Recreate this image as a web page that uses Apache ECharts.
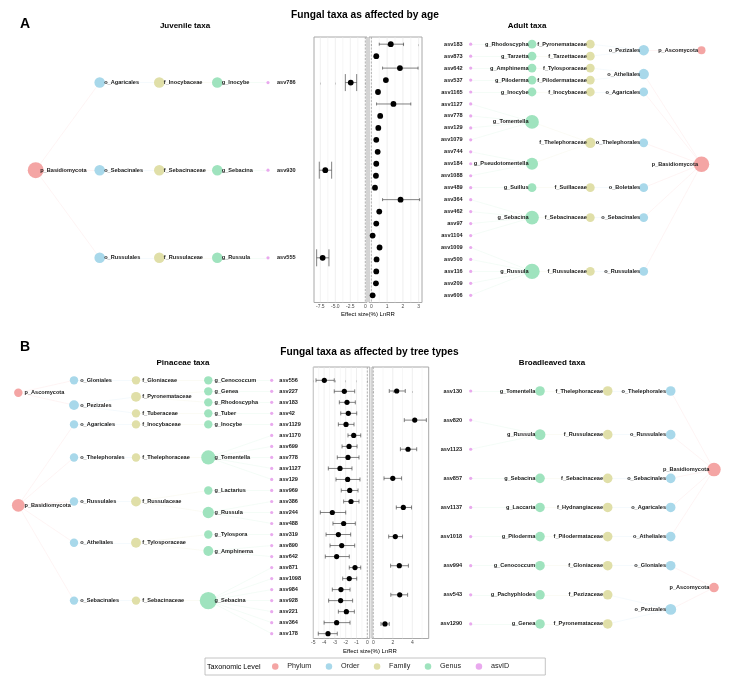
<!DOCTYPE html>
<html>
<head>
<meta charset="utf-8">
<script src="https://cdn.jsdelivr.net/npm/echarts@6/dist/echarts.min.js"></script>
<style>
  html, body { margin: 0; padding: 0; background: #fff; }
  #main { width: 732px; height: 684px; }
</style>
</head>
<body>
<div id="main"></div>
<script>
  // genus -> [phylum, order, family]
  const taxonomy = {
    g_Rhodoscypha: ['p_Ascomycota', 'o_Pezizales', 'f_Pyronemataceae'],
    g_Genea: ['p_Ascomycota', 'o_Pezizales', 'f_Pyronemataceae'],
    g_Tarzetta: ['p_Ascomycota', 'o_Pezizales', 'f_Tarzettaceae'],
    g_Tuber: ['p_Ascomycota', 'o_Pezizales', 'f_Tuberaceae'],
    g_Pachyphlodes: ['p_Ascomycota', 'o_Pezizales', 'f_Pezizaceae'],
    g_Cenococcum: ['p_Ascomycota', 'o_Gloniales', 'f_Gloniaceae'],
    g_Amphinema: ['p_Basidiomycota', 'o_Atheliales', 'f_Tylosporaceae'],
    g_Tylospora: ['p_Basidiomycota', 'o_Atheliales', 'f_Tylosporaceae'],
    g_Piloderma: ['p_Basidiomycota', 'o_Atheliales', 'f_Pilodermataceae'],
    g_Inocybe: ['p_Basidiomycota', 'o_Agaricales', 'f_Inocybaceae'],
    g_Laccaria: ['p_Basidiomycota', 'o_Agaricales', 'f_Hydnangiaceae'],
    g_Tomentella: ['p_Basidiomycota', 'o_Thelephorales', 'f_Thelephoraceae'],
    g_Pseudotomentella: ['p_Basidiomycota', 'o_Thelephorales', 'f_Thelephoraceae'],
    g_Suillus: ['p_Basidiomycota', 'o_Boletales', 'f_Suillaceae'],
    g_Sebacina: ['p_Basidiomycota', 'o_Sebacinales', 'f_Sebacinaceae'],
    g_Russula: ['p_Basidiomycota', 'o_Russulales', 'f_Russulaceae'],
    g_Lactarius: ['p_Basidiomycota', 'o_Russulales', 'f_Russulaceae']
  };
  const levelNames = ['Phylum', 'Order', 'Family', 'Genus', 'asvID'];
  const levelColors = ['#F4A5A4', '#A8D8EA', '#E0DFA8', '#9FE3BE', '#E9A9EE'];

  // A: age
  const juvenileAsv = ['asv786', 'asv930', 'asv555'];
  const juvenileGenus = ['g_Inocybe', 'g_Sebacina', 'g_Russula'];
  const juvenileLnRR = [-2.43, -6.67, -7.11];
  const juvenileLow = [-3.33, -7.67, -8.11];
  const juvenileHigh = [-1.44, -5.61, -6.06];
  const juvenileTicks = [-7.5, -5, -2.5, 0];
  const juvenileTickLabels = ['-7.5', '-5.0', '-2.5', '0'];

  const adultAsv = ['asv183', 'asv873', 'asv642', 'asv537', 'asv1165', 'asv1127', 'asv778', 'asv129',
    'asv1079', 'asv744', 'asv184', 'asv1088', 'asv489', 'asv364', 'asv462', 'asv97', 'asv1104',
    'asv1009', 'asv500', 'asv116', 'asv209', 'asv606'];
  const adultGenus = ['g_Rhodoscypha', 'g_Tarzetta', 'g_Amphinema', 'g_Piloderma', 'g_Inocybe',
    'g_Tomentella', 'g_Tomentella', 'g_Tomentella', 'g_Tomentella',
    'g_Pseudotomentella', 'g_Pseudotomentella', 'g_Pseudotomentella', 'g_Suillus',
    'g_Sebacina', 'g_Sebacina', 'g_Sebacina', 'g_Sebacina',
    'g_Russula', 'g_Russula', 'g_Russula', 'g_Russula', 'g_Russula'];
  const adultLnRR = [1.23, 0.31, 1.81, 0.92, 0.42, 1.40, 0.56, 0.44, 0.31, 0.40, 0.31, 0.29, 0.23,
    1.85, 0.50, 0.31, 0.08, 0.52, 0.33, 0.31, 0.29, 0.08];
  const adultLow = [0.50, 0.27, 0.71, 0.88, 0.38, 0.33, 0.52, 0.40, 0.27, 0.36, 0.27, 0.25, 0.19,
    0.71, 0.46, 0.27, 0.04, 0.48, 0.29, 0.27, 0.25, 0.04];
  const adultHigh = [2.04, 0.35, 2.96, 0.96, 0.46, 2.50, 0.60, 0.48, 0.35, 0.44, 0.35, 0.33, 0.27,
    3.06, 0.54, 0.35, 0.12, 0.56, 0.37, 0.35, 0.33, 0.12];
  const adultTicks = [0, 1, 2, 3];
  const adultTickLabels = ['0', '1', '2', '3'];

  // B: tree types
  const pinaceaeAsv = ['asv556', 'asv227', 'asv183', 'asv42', 'asv1129', 'asv1170', 'asv699', 'asv778',
    'asv1127', 'asv129', 'asv969', 'asv386', 'asv244', 'asv488', 'asv319', 'asv890', 'asv642',
    'asv871', 'asv1098', 'asv984', 'asv928', 'asv221', 'asv364', 'asv178'];
  const pinaceaeGenus = ['g_Cenococcum', 'g_Genea', 'g_Rhodoscypha', 'g_Tuber', 'g_Inocybe',
    'g_Tomentella', 'g_Tomentella', 'g_Tomentella', 'g_Tomentella', 'g_Tomentella',
    'g_Lactarius', 'g_Russula', 'g_Russula', 'g_Russula', 'g_Tylospora', 'g_Amphinema', 'g_Amphinema',
    'g_Sebacina', 'g_Sebacina', 'g_Sebacina', 'g_Sebacina', 'g_Sebacina', 'g_Sebacina', 'g_Sebacina'];
  const pinaceaeLnRR = [-3.98, -2.13, -1.88, -1.76, -1.97, -1.26, -1.69, -1.79, -2.53, -1.82, -1.63, -1.51,
    -3.24, -2.19, -2.68, -2.37, -2.84, -1.14, -1.67, -2.44, -2.47, -1.94, -2.84, -3.64];
  const pinaceaeLow = [-4.75, -3.06, -2.59, -2.46, -2.68, -1.79, -2.34, -2.78, -3.61, -2.90, -2.41, -2.19,
    -4.35, -3.18, -3.82, -3.45, -3.89, -1.67, -2.28, -3.24, -3.58, -2.68, -4.00, -4.54];
  const pinaceaeHigh = [-3.06, -1.17, -1.11, -0.98, -1.23, -0.61, -0.95, -0.77, -1.42, -0.68, -0.86, -0.77,
    -2.00, -1.11, -1.54, -1.17, -1.67, -0.61, -0.98, -1.60, -1.36, -1.20, -1.60, -2.78];
  const pinaceaeTicks = [-5, -4, -3, -2, -1, 0];
  const pinaceaeTickLabels = ['-5', '-4', '-3', '-2', '-1', '0'];

  const broadAsv = ['asv130', 'asv820', 'asv1123', 'asv857', 'asv1137', 'asv1018', 'asv994', 'asv543', 'asv1290'];
  const broadGenus = ['g_Tomentella', 'g_Russula', 'g_Russula', 'g_Sebacina', 'g_Laccaria', 'g_Piloderma',
    'g_Cenococcum', 'g_Pachyphlodes', 'g_Genea'];
  const broadLnRR = [2.40, 4.25, 3.56, 2.00, 3.08, 2.26, 2.67, 2.71, 1.20];
  const broadLow = [1.64, 3.18, 2.78, 1.10, 2.36, 1.58, 1.78, 1.80, 0.79];
  const broadHigh = [3.28, 5.44, 4.45, 2.90, 3.92, 3.00, 3.60, 3.52, 1.64];
  const broadTicks = [0, 2, 4];
  const broadTickLabels = ['0', '2', '4'];

  const FONT = '"Liberation Sans", Arial, sans-serif';
  const boxA = { top: 37, height: 265.5 };
  const boxB = { top: 367, height: 271.5 };
  const rangeJuv = [-0.52, 2.51];
  const rangeAdult = [-0.6, 21.6];
  const rangePin = [-1.21, 23.44];
  const rangeBroad = [-0.824, 8.5];

  // tree layout: leaves in row order, parent row = mean of its children
  function buildTree(asvs, genera, st) {
    const byName = {};
    const list = [];
    const links = [];
    asvs.forEach(function (asv, i) {
      const path = taxonomy[genera[i]].concat([genera[i], asv]);
      path.forEach(function (name, level) {
        if (byName[name]) return;
        const n = { name: name, level: level, kids: [], row: level === 4 ? i : null };
        byName[name] = n;
        list.push(n);
        if (level > 0) {
          byName[path[level - 1]].kids.push(n);
          links.push({ source: path[level - 1], target: name,
            lineStyle: { color: levelColors[level - 1] } });
        }
      });
    });
    function rowOf(n) {
      if (n.row === null) {
        n.row = n.kids.reduce(function (s, k) { return s + rowOf(k); }, 0) / n.kids.length;
      }
      return n.row;
    }
    const nodes = list.map(function (n) {
      const deg = n.kids.length + (n.level > 0 ? 1 : 0);
      const isAsv = n.level === 4;
      const size = isAsv ? 3.2 : Math.max(st.min, st.a + st.b * deg);
      const off = isAsv ? st.asvOff : st.off;
      return {
        name: n.name,
        value: [st.cols[n.level], rowOf(n)],
        category: n.level,
        symbolSize: size,
        label: {
          show: true, position: 'inside', align: st.side,
          offset: [st.side === 'left' ? off : -off, 0]
        }
      };
    });
    return {
      type: 'graph', layout: 'none', coordinateSystem: 'cartesian2d',
      xAxisIndex: st.grid, yAxisIndex: st.grid,
      symbol: 'circle', silent: true, animation: false, z: 2,
      categories: levelNames.map(function (n, i) { return { name: n, itemStyle: { color: levelColors[i] } }; }),
      data: nodes, links: links,
      lineStyle: { width: 0.7, opacity: 0.17, curveness: 0 },
      label: { fontSize: 5.6, fontWeight: 'bold', color: '#1a1a1a', fontFamily: FONT },
      emphasis: { disabled: true }
    };
  }

  const trees = [
    buildTree(juvenileAsv, juvenileGenus,
      { grid: 0, cols: [35.7, 99.7, 159.3, 217.3, 268], side: 'left', off: 4.5, asvOff: 9, a: 0, b: 5.3, min: 8 }),
    buildTree(adultAsv, adultGenus,
      { grid: 1, cols: [701.5, 643.7, 590.3, 532, 470.7], side: 'right', off: 3.5, asvOff: 8, a: 5.5, b: 1.65, min: 8 }),
    buildTree(pinaceaeAsv, pinaceaeGenus,
      { grid: 4, cols: [18.3, 74, 136, 208.3, 271.7], side: 'left', off: 6.2, asvOff: 7.6, a: 5.5, b: 1.45, min: 8 }),
    buildTree(broadAsv, broadGenus,
      { grid: 5, cols: [714, 670.7, 607.7, 540, 470.7], side: 'right', off: 4.7, asvOff: 8.5, a: 7, b: 1.3, min: 9.3 })
  ];

  // forest panels
  const panels = [
    { grid: 2, box: boxA, left: 314, width: 53, xmin: -8.55, xmax: 0.28, yr: rangeJuv,
      mid: juvenileLnRR, low: juvenileLow, high: juvenileHigh, ticks: juvenileTicks, labels: juvenileTickLabels,
      major: 2.5, minor: 1.25, cap: 17, dot: 5.8 },
    { grid: 3, box: boxA, left: 369, width: 53, xmin: -0.15, xmax: 3.21, yr: rangeAdult,
      mid: adultLnRR, low: adultLow, high: adultHigh, ticks: adultTicks, labels: adultTickLabels,
      major: 1, minor: 0.5, cap: 3, dot: 5.8 },
    { grid: 6, box: boxB, left: 313.3, width: 56.5, xmin: -5.0, xmax: 0.23, yr: rangePin,
      mid: pinaceaeLnRR, low: pinaceaeLow, high: pinaceaeHigh, ticks: pinaceaeTicks, labels: pinaceaeTickLabels,
      major: 1, minor: 0.5, cap: 4, dot: 5.2 },
    { grid: 7, box: boxB, left: 372, width: 56.7, xmin: -0.13, xmax: 5.68, yr: rangeBroad,
      mid: broadLnRR, low: broadLow, high: broadHigh, ticks: broadTicks, labels: broadTickLabels,
      major: 2, minor: 1, cap: 4, dot: 5.2 }
  ];

  const grids = [
    Object.assign({ left: 0, width: 732, show: false }, boxA),
    Object.assign({ left: 0, width: 732, show: false }, boxA),
    null, null,
    Object.assign({ left: 0, width: 732, show: false }, boxB),
    Object.assign({ left: 0, width: 732, show: false }, boxB),
    null, null
  ];
  const xAxes = [];
  const yAxes = [];
  [[0, rangeJuv], [1, rangeAdult], [4, rangePin], [5, rangeBroad]].forEach(function (t) {
    xAxes[t[0]] = { gridIndex: t[0], type: 'value', min: 0, max: 732, show: false };
    yAxes[t[0]] = { gridIndex: t[0], type: 'value', min: t[1][0], max: t[1][1], inverse: true, show: false };
  });

  const forestSeries = [];
  panels.forEach(function (p) {
    const g = p.grid;
    grids[g] = Object.assign({ left: p.left, width: p.width, show: true, backgroundColor: '#fff',
      borderColor: '#a8a8a8', borderWidth: 1 }, p.box);
    xAxes[g] = {
      gridIndex: g, type: 'value', min: p.xmin, max: p.xmax,
      axisLine: { show: false }, splitLine: { show: false },
      axisTick: { show: true, customValues: p.ticks, length: 2, lineStyle: { color: '#777', width: 0.6 } },
      axisLabel: { customValues: p.ticks, fontSize: 5, color: '#4d4d4d', margin: 2, fontFamily: FONT,
        formatter: function (v) { const k = p.ticks.indexOf(v); return k >= 0 ? p.labels[k] : ''; } }
    };
    yAxes[g] = { gridIndex: g, type: 'value', min: p.yr[0], max: p.yr[1], inverse: true, show: false };

    const lines = [];
    const start = Math.ceil(p.xmin / p.minor - 1e-9);
    for (let k = start; k * p.minor <= p.xmax + 1e-9; k++) {
      const v = +(k * p.minor).toFixed(4);
      const isMajor = Math.abs(v / p.major - Math.round(v / p.major)) < 1e-6;
      lines.push([v, isMajor ? 1 : 0]);
    }
    lines.push([0, 2]);
    forestSeries.push({
      type: 'custom', xAxisIndex: g, yAxisIndex: g, silent: true, animation: false, z: 1,
      data: lines,
      renderItem: function (params, api) {
        const kind = api.value(1);
        const a = api.coord([api.value(0), p.yr[0]]);
        const b = api.coord([api.value(0), p.yr[1]]);
        const st = kind === 2 ? { stroke: '#9a9a9a', lineWidth: 0.7, lineDash: [2, 1.5] }
          : kind === 1 ? { stroke: '#e4e4e4', lineWidth: 0.6 } : { stroke: '#efefef', lineWidth: 0.5 };
        return { type: 'line', shape: { x1: a[0], y1: a[1], x2: b[0], y2: b[1] }, style: st };
      }
    });
    forestSeries.push({
      type: 'custom', xAxisIndex: g, yAxisIndex: g, silent: true, animation: false, z: 2,
      data: p.mid.map(function (m, i) { return [p.low[i], p.high[i], i]; }),
      encode: { x: [0, 1], y: 2 },
      renderItem: function (params, api) {
        const lo = api.coord([api.value(0), api.value(2)]);
        const hi = api.coord([api.value(1), api.value(2)]);
        const h = p.cap / 2;
        const st = { stroke: '#4a4a4a', lineWidth: 0.7 };
        return { type: 'group', children: [
          { type: 'line', shape: { x1: lo[0], y1: lo[1], x2: hi[0], y2: hi[1] }, style: st },
          { type: 'line', shape: { x1: lo[0], y1: lo[1] - h, x2: lo[0], y2: lo[1] + h }, style: st },
          { type: 'line', shape: { x1: hi[0], y1: hi[1] - h, x2: hi[0], y2: hi[1] + h }, style: st }
        ] };
      }
    });
    forestSeries.push({
      type: 'scatter', xAxisIndex: g, yAxisIndex: g, silent: true, animation: false, z: 3,
      symbolSize: p.dot, itemStyle: { color: '#000', opacity: 1 },
      data: p.mid.map(function (m, i) { return [m, i]; })
    });
  });

  function txt(x, y, text, size, bold, align) {
    return { type: 'text', x: x, y: y, silent: true,
      style: { text: text, fill: '#000', align: align || 'center', verticalAlign: 'middle',
        font: (bold ? 'bold ' : '') + size + 'px ' + FONT } };
  }

  const chart = echarts.init(document.getElementById('main'));
  chart.setOption({
    animation: false,
    backgroundColor: '#fff',
    grid: grids,
    xAxis: xAxes,
    yAxis: yAxes,
    legend: {
      data: levelNames, selectedMode: false, icon: 'circle',
      left: 205, top: 658, orient: 'horizontal',
      itemWidth: 14, itemHeight: 6.5, itemGap: 14.5,
      padding: [5, 36, 5, 67],
      borderColor: '#b5b5b5', borderWidth: 0.8,
      textStyle: { fontSize: 7.2, color: '#222', fontFamily: FONT }
    },
    graphic: [
      txt(20, 24, 'A', 14, true, 'left'),
      txt(365, 15, 'Fungal taxa as affected by age', 10.2, true),
      txt(185, 26, 'Juvenile taxa', 8, true),
      txt(527, 26, 'Adult taxa', 8, true),
      txt(368, 314, 'Effect size(%) LnRR', 6, false),
      txt(20, 347, 'B', 14, true, 'left'),
      txt(369.5, 352, 'Fungal taxa as affected by tree types', 10.2, true),
      txt(183, 362.5, 'Pinaceae taxa', 8, true),
      txt(552, 363, 'Broadleaved taxa', 8, true),
      txt(370, 651, 'Effect size(%) LnRR', 6, false),
      txt(207, 667.5, 'Taxonomic Level', 7.2, false, 'left')
    ],
    series: trees.concat(forestSeries)
  });
</script>
</body>
</html>
